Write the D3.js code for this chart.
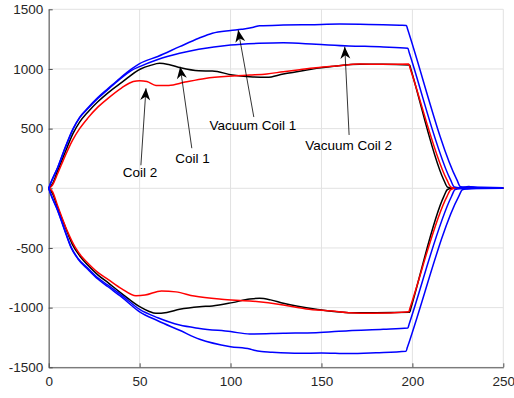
<!DOCTYPE html>
<html>
<head>
<meta charset="utf-8">
<script src="https://cdnjs.cloudflare.com/ajax/libs/d3/7.8.5/d3.min.js"></script>
<style>
body { margin: 0; background: #fff; }
svg { display: block; font-family: "Liberation Sans", Arial, sans-serif; }
</style>
</head>
<body>
<svg id="chart" width="514" height="398"></svg>
<script>
// tick labels
var xTicks = [0, 50, 100, 150, 200, 250];
var yTicks = [-1500, -1000, -500, 0, 500, 1000, 1500];

// series as [time, value] pairs
var vac1Up = [[0,0],[1,40],[5.1,181],[9,340],[13.4,500],[17,595],[21.6,675],[27,760],[32.6,835],[39,920],[45.6,1000],[50,1045],[60,1105],[72,1187],[82.5,1257],[90,1299],[100,1322],[106,1332],[110.6,1343],[113,1352],[116,1362],[129,1368],[143.6,1371],[160,1376],[176,1373],[193,1366],[196.7,1365],[197.4,1332],[224.5,70],[226.5,12],[229,10],[231,15],[236,5],[250,5]];
var vac2Up = [[0,0],[1,40],[5.1,178],[9,335],[13.4,495],[17,590],[21.6,668],[27,752],[32.6,828],[39,912],[45.6,988],[50,1020],[60,1080],[72,1131],[82.5,1165],[100,1201],[115.7,1215],[129,1220],[147,1207],[165,1193],[184,1185],[197.5,1173],[198.2,1140],[221,70],[223,12],[226,5],[230,10],[250,5]];
var coil1Up = [[0,0],[2,35],[5,150],[9,300],[13.4,460],[17,555],[21.6,640],[27,725],[32.6,800],[40,885],[50.5,1000],[56,1030],[61,1047],[66,1037],[72.5,1010],[82.5,985],[90,983],[101,950],[110.6,935],[120,930],[129,958],[138,980],[147.3,1005],[158,1025],[171,1039],[183.6,1039],[198.5,1033],[199.2,997],[217.2,72],[219.3,10],[222,0],[250,0]];
var coil2Up = [[0,0],[2,25],[5,126],[9,270],[13,400],[17,500],[21.6,590],[27,680],[32.6,754],[40,840],[46.5,895],[50,902],[54,895],[59,862],[66,862],[75,890],[86,921],[101,941],[110.6,949],[120,958],[129,977],[138,994],[147,1010],[158,1025],[171,1041],[184,1039],[198,1041],[198.7,1009],[219,70],[221.2,10],[224,0],[250,0]];

var vac1Down = [[0,0],[1,-45],[5,-190],[8.5,-340],[12.4,-500],[16,-590],[21.6,-680],[27,-760],[32.6,-825],[40,-910],[50,-1035],[60,-1110],[72,-1190],[83,-1265],[100,-1327],[110.6,-1347],[113,-1357],[117,-1368],[122,-1373],[138,-1383],[150,-1380],[165,-1385],[180,-1378],[196.5,-1366],[197.2,-1335],[225.5,-67],[227.5,-12],[230,-5],[235,0],[250,0]];
var vac2Down = [[0,0],[1,-42],[5,-185],[8.5,-335],[12.4,-495],[16,-585],[21.6,-670],[27,-750],[32.6,-812],[40,-895],[50,-1015],[60,-1085],[72,-1146],[83,-1174],[100,-1201],[110.6,-1221],[129,-1215],[147,-1210],[165,-1193],[184,-1182],[197.5,-1171],[198.2,-1139],[221.5,-69],[223.5,-10],[226,-3],[250,0]];
var coil1Down = [[0,0],[2,-40],[5,-165],[9,-320],[13,-470],[17,-565],[21.6,-645],[27,-725],[32.6,-791],[40,-880],[50,-992],[55,-1030],[59,-1048],[65,-1040],[72,-1014],[83,-992],[90,-986],[101,-958],[110.6,-928],[116,-922],[122,-935],[129,-964],[147,-1014],[165,-1042],[180,-1042],[198.5,-1039],[199.2,-1003],[217.2,-72],[219.3,-10],[222,0],[250,0]];
var coil2Down = [[0,0],[2,-25],[5,-150],[10,-350],[14.8,-500],[18,-570],[21.6,-628],[27,-705],[32.6,-763],[40,-840],[48,-900],[53,-895],[62,-860],[70,-868],[80,-903],[95,-930],[110.6,-944],[129,-978],[141.6,-1011],[156,-1028],[165,-1042],[178,-1048],[198,-1034],[198.7,-1002],[219,-69],[221.2,-10],[224,0],[250,0]];

// annotation labels: text position and arrow tail/tip, in data units
var notes = [
    {label: "Coil 2", tx: 50.2, ty: 131, x0: 50.7, y0: 193, x1: 53.5, y1: 838},
    {label: "Coil 1", tx: 79.1, ty: 254, x0: 78.7, y0: 336, x1: 72.3, y1: 1019},
    {label: "Vacuum Coil 1", tx: 112.3, ty: 525, x0: 112.8, y0: 597, x1: 104.2, y1: 1326},
    {label: "Vacuum Coil 2", tx: 165, ty: 363, x0: 165.2, y0: 447, x1: 162.8, y1: 1187}
];

// plot box in pixels (don't call these top/left, window.top is read only)
var padL = 48.7, padR = 503.3, padT = 9.3, padB = 367.3;

var svg = d3.select("#chart");

var x = d3.scaleLinear().domain([0, 250]).range([padL, padR]);
var y = d3.scaleLinear().domain([-1500, 1500]).range([padB, padT]);

// grid
var grid = svg.append("g").attr("class", "grid");
grid.selectAll("line.gx").data(xTicks).enter().append("line")
    .attr("class", "gx")
    .attr("x1", function(d) { return x(d) }).attr("x2", function(d) { return x(d) })
    .attr("y1", padT).attr("y2", padB)
    .attr("stroke", "#e2e2e2").attr("stroke-width", 1);
grid.selectAll("line.gy").data(yTicks).enter().append("line")
    .attr("class", "gy")
    .attr("y1", function(d) { return y(d) }).attr("y2", function(d) { return y(d) })
    .attr("x1", padL).attr("x2", padR)
    .attr("stroke", "#e2e2e2").attr("stroke-width", 1);

// axes, matlab style ticks pointing inward, plain hyphen for negatives
var fmt = function(d) { return String(d) };
var xAxis = d3.axisBottom(x).tickValues(xTicks).tickFormat(fmt).tickSizeInner(-4).tickSizeOuter(0).tickPadding(9);
var yAxis = d3.axisLeft(y).tickValues(yTicks).tickFormat(fmt).tickSizeInner(-4).tickSizeOuter(0).tickPadding(9);

var gx = svg.append("g").attr("transform", "translate(0," + padB + ")").call(xAxis);
var gy = svg.append("g").attr("transform", "translate(" + padL + ",0)").call(yAxis);

[gx, gy].forEach(function(g) {
    g.select(".domain").attr("stroke", "#4d4d4d").attr("stroke-width", 1);
    g.selectAll(".tick line").attr("stroke", "#4d4d4d");
    g.selectAll(".tick text")
        .attr("fill", "#262626")
        .attr("font-size", "13.5px")
        .attr("font-family", "'Liberation Sans', Arial, sans-serif");
});
gy.selectAll(".tick text").attr("x", -5.5);

// lines
var line = d3.line()
    .x(function(d) { return x(d[0]) })
    .y(function(d) { return y(d[1]) })
    .curve(d3.curveMonotoneX);

var series = [
    {data: coil1Up, color: "#000000"},
    {data: coil1Down, color: "#000000"},
    {data: coil2Up, color: "#ff0000"},
    {data: coil2Down, color: "#ff0000"},
    {data: vac1Up, color: "#0000ff"},
    {data: vac1Down, color: "#0000ff"},
    {data: vac2Up, color: "#0000ff"},
    {data: vac2Down, color: "#0000ff"}
];

svg.append("g").selectAll("path").data(series).enter().append("path")
    .attr("d", function(d) { return line(d.data) })
    .attr("fill", "none")
    .attr("stroke", function(d) { return d.color })
    .attr("stroke-width", 1.5)
    .attr("stroke-linejoin", "round");

// annotations
var ann = svg.append("g").attr("class", "notes");
notes.forEach(function(n) {
    var ax = x(n.x0), ay = y(n.y0), bx = x(n.x1), by = y(n.y1);
    var ang = Math.atan2(by - ay, bx - ax) * 180 / Math.PI;
    ann.append("line")
        .attr("x1", ax).attr("y1", ay).attr("x2", bx).attr("y2", by)
        .attr("stroke", "#000").attr("stroke-width", 0.8);
    // vback2 style head
    ann.append("path")
        .attr("d", "M0,0 L-12,-5 L-8.5,0 L-12,5 Z")
        .attr("fill", "#000")
        .attr("transform", "translate(" + bx + "," + by + ") rotate(" + ang + ")");
    ann.append("text")
        .attr("x", x(n.tx)).attr("y", y(n.ty))
        .attr("dy", "0.35em")
        .attr("text-anchor", "middle")
        .attr("font-size", "13.5px")
        .attr("fill", "#000")
        .text(n.label);
});
</script>
</body>
</html>
